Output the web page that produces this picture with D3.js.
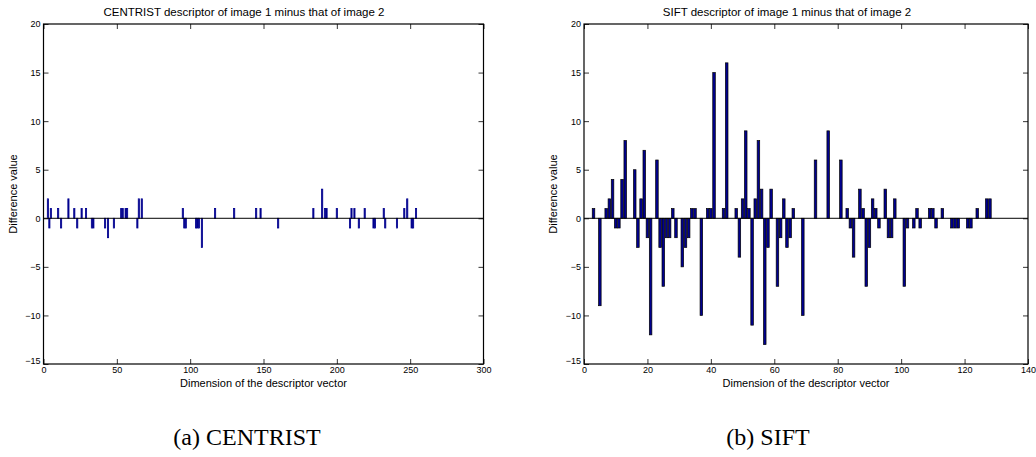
<!DOCTYPE html>
<html>
<head>
<meta charset="utf-8">
<script src="https://cdn.jsdelivr.net/npm/d3@7"></script>
<style>
  body { margin: 0; background: #fff; }
  svg { display: block; }
</style>
</head>
<body>
<svg width="1036" height="457"></svg>
<script>
// CENTRIST difference (dimension -> value), only non-zero dims
const centristDims = [3, 4, 5, 10, 12, 17, 21, 23, 26, 29, 33, 34, 42, 44, 48, 53, 54, 56, 57,
  64, 65, 67, 95, 96, 97, 104, 105, 106, 108, 117, 130, 145, 148, 160, 184, 190, 192, 193,
  200, 209, 210, 212, 215, 219, 225, 226, 232, 233, 241, 246, 248, 251, 252, 254];
const centristValues = [2, -1, 1, 1, -1, 2, 1, -1, 1, 1, -1, -1, -1, -2, -1, 1, 1, 1, 1,
  -1, 2, 2, 1, -1, -1, -1, -1, -1, -3, 1, 1, 1, 1, -1, 1, 3, 1, 1,
  1, -1, 1, 1, -1, 1, -1, -1, 1, -1, -1, 1, 2, -1, -1, 1];

// SIFT difference
const siftDims = [3, 5, 7, 8, 9, 10, 11, 12, 13, 16, 17, 18, 19, 20, 21, 23, 24, 25, 26, 27,
  28, 29, 31, 32, 33, 34, 35, 37, 39, 40, 41, 44, 45, 48, 49, 50, 51, 52, 53, 54, 55, 56,
  57, 58, 59, 61, 62, 63, 64, 65, 66, 69, 73, 77, 81, 83, 84, 85, 87, 88, 89, 90, 91, 92,
  93, 95, 96, 97, 98, 101, 102, 104, 105, 106, 109, 110, 111, 113, 116, 117, 118, 121,
  122, 124, 127, 128];
const siftValues = [1, -9, 1, 2, 4, -1, -1, 4, 8, 5, -3, 2, 7, -2, -12, 6, -3, -7, -2, -2,
  1, -2, -5, -3, -2, 1, 1, -10, 1, 1, 15, 1, 16, 1, -4, 2, 9, 1, -11, 2, 8, 3,
  -13, -3, 3, -7, -2, 2, -3, -2, 1, -10, 6, 9, 6, 1, -1, -4, 3, 1, -7, -3, 2, 1,
  -1, 3, -2, -2, 2, -7, -1, -1, 1, -1, 1, 1, -1, 1, -1, -1, -1, -1,
  -1, 1, 2, 2];

const yTicks = [-15, -10, -5, 0, 5, 10, 15, 20];
const centristXTicks = [0, 50, 100, 150, 200, 250, 300];
const siftXTicks = [0, 20, 40, 60, 80, 100, 120, 140];

const svg = d3.select("svg");
const sans = "'Liberation Sans', Arial, Helvetica, sans-serif";

function drawPanel(p) {
  const xScaler = d3.scaleLinear().domain([0, p.xMax]).range([p.left, p.right]);
  const yScaler = d3.scaleLinear().domain([-15, 20]).range([364, 24]);
  const g = svg.append("g");

  // axes, ticks pointing inwards like matlab
  const bottom = g.append("g")
    .attr("transform", `translate(0, ${yScaler(-15)})`)
    .call(d3.axisBottom(xScaler).tickValues(p.xTicks).tickSize(-5).tickPadding(4));
  g.append("g")
    .attr("transform", `translate(0, ${yScaler(20)})`)
    .call(d3.axisTop(xScaler).tickValues(p.xTicks).tickSize(-5).tickFormat(""));
  const leftAxis = g.append("g")
    .attr("transform", `translate(${p.left}, 0)`)
    .call(d3.axisLeft(yScaler).tickValues(yTicks).tickSize(-5).tickPadding(3));
  g.append("g")
    .attr("transform", `translate(${p.right}, 0)`)
    .call(d3.axisRight(yScaler).tickValues(yTicks).tickSize(-5).tickFormat(""));

  g.selectAll(".domain").remove();
  g.selectAll(".tick line").attr("stroke", "#000").attr("stroke-width", 0.8);
  g.selectAll(".tick text").attr("font-family", sans).attr("font-size", 9).attr("fill", "#000");
  // matlab puts -15 at the corner, nudged up
  leftAxis.selectAll(".tick text").filter((d) => d === -15).attr("dy", "-0.1em");
  bottom.selectAll(".tick text").attr("dy", "0.6em");

  // bars
  const bw = xScaler(0.8) - xScaler(0);
  g.append("g")
    .selectAll("rect")
    .data(p.dims.map((d, i) => ({ d, v: p.values[i] })))
    .join("rect")
    .attr("x", (b) => xScaler(b.d) - bw / 2)
    .attr("y", (b) => yScaler(Math.max(b.v, 0)))
    .attr("width", bw)
    .attr("height", (b) => Math.abs(yScaler(b.v) - yScaler(0)))
    .attr("fill", p.fill)
    .attr("stroke", p.stroke)
    .attr("stroke-width", p.strokeWidth);

  // baseline
  g.append("line")
    .attr("x1", p.left).attr("x2", p.right)
    .attr("y1", yScaler(0)).attr("y2", yScaler(0))
    .attr("stroke", "#000").attr("stroke-width", 1);

  // box
  g.append("rect")
    .attr("x", p.left).attr("y", yScaler(20))
    .attr("width", p.right - p.left).attr("height", yScaler(-15) - yScaler(20))
    .attr("fill", "none").attr("stroke", "#000").attr("stroke-width", 1.2);

  g.append("text")
    .attr("x", p.titleX).attr("y", 16)
    .attr("text-anchor", "middle")
    .attr("font-family", sans).attr("font-size", 11.5)
    .text(p.title);

  g.append("text")
    .attr("x", (p.left + p.right) / 2).attr("y", 387)
    .attr("text-anchor", "middle")
    .attr("font-family", sans).attr("font-size", 11)
    .text("Dimension of the descriptor vector");

  g.append("text")
    .attr("transform", `translate(${p.left - 27}, ${yScaler(2.5)}) rotate(-90)`)
    .attr("text-anchor", "middle")
    .attr("font-family", sans).attr("font-size", 11)
    .text("Difference value");

  g.append("text")
    .attr("x", p.captionX).attr("y", 445)
    .attr("text-anchor", "middle")
    .attr("font-family", "'Liberation Serif', 'Times New Roman', serif").attr("font-size", 24)
    .text(p.caption);
}

drawPanel({
  dims: centristDims, values: centristValues, xMax: 300, xTicks: centristXTicks,
  left: 43.5, right: 483.5,
  title: "CENTRIST descriptor of image 1 minus that of image 2", titleX: 244,
  caption: "(a) CENTRIST", captionX: 247,
  fill: "#00008f", stroke: "#00008f", strokeWidth: 0.8,
});

drawPanel({
  dims: siftDims, values: siftValues, xMax: 140, xTicks: siftXTicks,
  left: 584, right: 1028,
  title: "SIFT descriptor of image 1 minus that of image 2", titleX: 787,
  caption: "(b) SIFT", captionX: 768,
  fill: "#00008f", stroke: "#000", strokeWidth: 0.7,
});
</script>
</body>
</html>
